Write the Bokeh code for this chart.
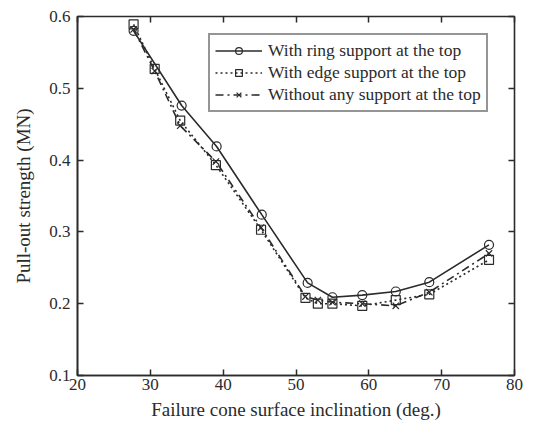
from bokeh.plotting import figure
from bokeh.models import LinearAxis, FixedTicker, Legend, LegendItem, Range1d
from bokeh.embed import file_html
from bokeh.resources import INLINE

# Data
ring_x = [27.7, 34.3, 39.1, 45.3, 51.6, 55.0, 59.1, 63.7, 68.3, 76.5]
ring_y = [0.580, 0.476, 0.419, 0.324, 0.229, 0.209, 0.212, 0.217, 0.230, 0.282]

edge_x = [27.7, 30.6, 34.1, 39.0, 45.2, 51.3, 53.0, 55.0, 59.1, 63.7, 68.3, 76.5]
edge_y = [0.589, 0.527, 0.455, 0.393, 0.303, 0.208, 0.200, 0.200, 0.197, 0.205, 0.213, 0.261]

none_x = [27.7, 30.6, 34.1, 39.0, 45.2, 51.3, 53.0, 55.0, 59.1, 63.7, 68.3, 76.5]
none_y = [0.582, 0.524, 0.448, 0.398, 0.306, 0.210, 0.205, 0.202, 0.200, 0.197, 0.216, 0.270]

x_ticks = [20, 30, 40, 50, 60, 70, 80]
y_ticks = [0.1, 0.2, 0.3, 0.4, 0.5, 0.6]

labels = ["With ring support at the top",
          "With edge support at the top",
          "Without any support at the top"]

FONT = "Liberation Serif"
INK = "#2b2b2b"

p = figure(frame_width=437, frame_height=359,
           min_border_left=77, min_border_right=20, min_border_top=16, min_border_bottom=59,
           x_range=Range1d(20, 80), y_range=Range1d(0.1, 0.6),
           output_backend="svg", toolbar_location=None,
           background_fill_color="white", border_fill_color="white")

p.outline_line_color = INK
p.outline_line_width = 1.6
p.grid.visible = False

for ax in [p.xaxis[0], p.yaxis[0]]:
    ax.major_tick_in = 6
    ax.major_tick_out = 0
    ax.minor_tick_line_color = None
    ax.axis_line_color = INK
    ax.axis_line_width = 1.6
    ax.major_tick_line_color = INK
    ax.major_tick_line_width = 1.5
    ax.major_label_text_font = FONT
    ax.major_label_text_font_size = "17px"
    ax.major_label_text_color = INK
    ax.axis_label_text_font = FONT
    ax.axis_label_text_font_size = "19px"
    ax.axis_label_text_font_style = "normal"
    ax.axis_label_text_color = INK

p.xaxis.ticker = FixedTicker(ticks=x_ticks)
p.yaxis.ticker = FixedTicker(ticks=y_ticks)
p.xaxis.axis_label = "Failure cone surface inclination (deg.)"
p.yaxis.axis_label = "Pull-out strength (MN)"
p.xaxis.major_label_standoff = 3
p.xaxis.axis_label_standoff = 6
p.yaxis.major_label_standoff = 7
p.yaxis.axis_label_standoff = 12

# mirrored tick marks on the top and right
for side, ticks in [("above", x_ticks), ("right", y_ticks)]:
    a = LinearAxis(ticker=FixedTicker(ticks=ticks))
    a.major_tick_in = 6
    a.major_tick_out = 0
    a.minor_tick_line_color = None
    a.axis_line_color = None
    a.major_tick_line_color = INK
    a.major_tick_line_width = 1.5
    a.major_label_text_font_size = "0px"
    a.major_label_text_color = None
    p.add_layout(a, side)

r1 = p.line(ring_x, ring_y, line_color=INK, line_width=1.6)
m1 = p.scatter(ring_x, ring_y, marker="circle", size=9, fill_color=None,
               line_color=INK, line_width=1.2)
r2 = p.line(edge_x, edge_y, line_color=INK, line_width=1.6, line_dash="2 3")
m2 = p.scatter(edge_x, edge_y, marker="square", size=9, fill_color=None,
               line_color=INK, line_width=1.2)
r3 = p.line(none_x, none_y, line_color=INK, line_width=1.6, line_dash="8 4 2 4")
m3 = p.scatter(none_x, none_y, marker="x", size=9, line_color=INK, line_width=1.2)

legend = Legend(items=[LegendItem(label=labels[0], renderers=[r1, m1]),
                       LegendItem(label=labels[1], renderers=[r2, m2]),
                       LegendItem(label=labels[2], renderers=[r3, m3])],
                location=(131, 263))
legend.label_text_font = FONT
legend.label_text_font_size = "17.5px"
legend.label_text_color = INK
legend.glyph_width = 47
legend.glyph_height = 17
legend.label_height = 17
legend.spacing = 1
legend.padding = 5
legend.margin = 0
legend.label_standoff = 6
legend.border_line_color = INK
legend.border_line_width = 2
legend.background_fill_color = "white"
legend.background_fill_alpha = 1.0
p.add_layout(legend, "center")

open("out.html", "w").write(file_html(p, INLINE))
